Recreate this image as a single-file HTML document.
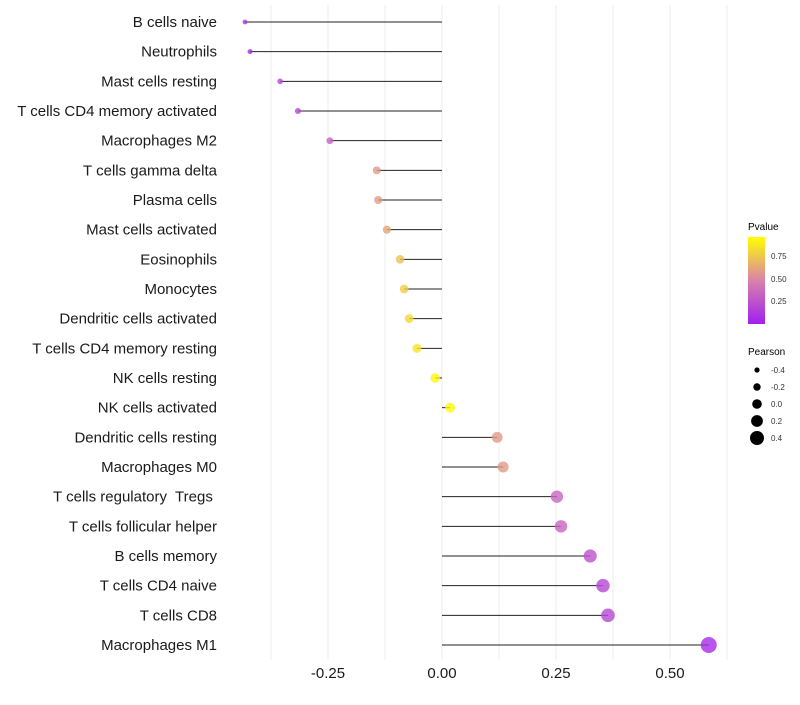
<!DOCTYPE html>
<html><head><meta charset="utf-8"><style>
body{margin:0;background:#fff;font-family:"Liberation Sans",sans-serif;}
text{white-space:pre;}
</style></head><body>
<svg id="chart" width="800" height="700" xmlns="http://www.w3.org/2000/svg">
<defs><linearGradient id="pg" x1="0" y1="1" x2="0" y2="0">
<stop offset="0" stop-color="rgb(160,32,240)"/><stop offset="0.5" stop-color="rgb(217,130,170)"/><stop offset="1" stop-color="rgb(255,255,0)"/></linearGradient></defs>
<g id="grid"></g>
<g id="marks"></g>
<g id="ylabels"></g>
<g id="xlabels"></g>
<g>
<text x="748" y="230" font-size="10">Pvalue</text>
<rect x="748" y="237" width="17" height="87" fill="url(#pg)"/>
<text x="771" y="259" font-size="8" fill="#333">0.75</text>
<text x="771" y="282" font-size="8" fill="#333">0.50</text>
<text x="771" y="304" font-size="8" fill="#333">0.25</text>
</g>
<g id="sizeLegend">
<text x="748" y="355" font-size="10">Pearson</text>
</g>
</svg>
<script>
const categories=["B cells naive","Neutrophils","Mast cells resting","T cells CD4 memory activated","Macrophages M2","T cells gamma delta","Plasma cells","Mast cells activated","Eosinophils","Monocytes","Dendritic cells activated","T cells CD4 memory resting","NK cells resting","NK cells activated","Dendritic cells resting","Macrophages M0","T cells regulatory  Tregs ","T cells follicular helper","B cells memory","T cells CD4 naive","T cells CD8","Macrophages M1"];
const pearson=[-0.432,-0.421,-0.355,-0.316,-0.246,-0.143,-0.140,-0.121,-0.092,-0.083,-0.072,-0.055,-0.015,0.018,0.121,0.134,0.252,0.261,0.325,0.353,0.364,0.585];
const pvalue=[0.1,0.05,0.2,0.2,0.35,0.6,0.6,0.65,0.75,0.8,0.85,0.9,0.98,0.97,0.6,0.6,0.35,0.35,0.25,0.2,0.2,0.05];
const xTicks=[-0.25,0,0.25,0.5];
const xTickLabels=["-0.25","0.00","0.25","0.50"];
const sizeLegendVals=[-0.4,-0.2,0,0.2,0.4];
const NS="http://www.w3.org/2000/svg";
const xs=v=>442+v*456;
const ys=i=>22+i*(623/21);
const rs=v=>Math.max(1.8,4.8+v*5.5);
function col(p){const a=[160,32,240],b=[217,130,170],c=[255,255,0];let s,e,t;if(p<0.5){s=a;e=b;t=p/0.5}else{s=b;e=c;t=(p-0.5)/0.5}return `rgb(${s.map((x,k)=>Math.round(x+(e[k]-x)*t)).join(',')})`;}
function mk(tag,at,par){const el=document.createElementNS(NS,tag);for(const k in at)el.setAttribute(k,at[k]);par.appendChild(el);return el;}
const grid=document.getElementById('grid');
for(let g=-0.375;g<=0.63;g+=0.125){const l=mk('line',{x1:xs(g),x2:xs(g),y1:5,y2:660,stroke:'#ececec','stroke-width':1},grid);

}
const marks=document.getElementById('marks'),yl=document.getElementById('ylabels');
categories.forEach((c,i)=>{
const y=ys(i);
const s=mk('line',{x1:xs(0),x2:xs(pearson[i]),y1:y,y2:y,stroke:'#222','stroke-width':1},marks);


const d=mk('circle',{cx:xs(pearson[i]),cy:y,r:rs(pearson[i]),fill:col(pvalue[i]),'fill-opacity':0.8},marks);


const t=mk('text',{x:217,y:y+5,'text-anchor':'end','font-size':15,fill:'#1a1a1a'},yl);t.textContent=c;


});
const xl=document.getElementById('xlabels');
xTicks.forEach((v,i)=>{const t=mk('text',{x:xs(v),y:678,'text-anchor':'middle','font-size':15,fill:'#1a1a1a'},xl);t.textContent=xTickLabels[i];

});
const sl=document.getElementById('sizeLegend');
sizeLegendVals.forEach((v,i)=>{const y=370+i*17;
const c=mk('circle',{cx:757,cy:y,r:rs(v),fill:'#000'},sl);


const t=mk('text',{x:771,y:y+3,'font-size':8,fill:'#333'},sl);t.textContent=v===0?'0.0':v.toFixed(1);

});
</script>
</body></html>
